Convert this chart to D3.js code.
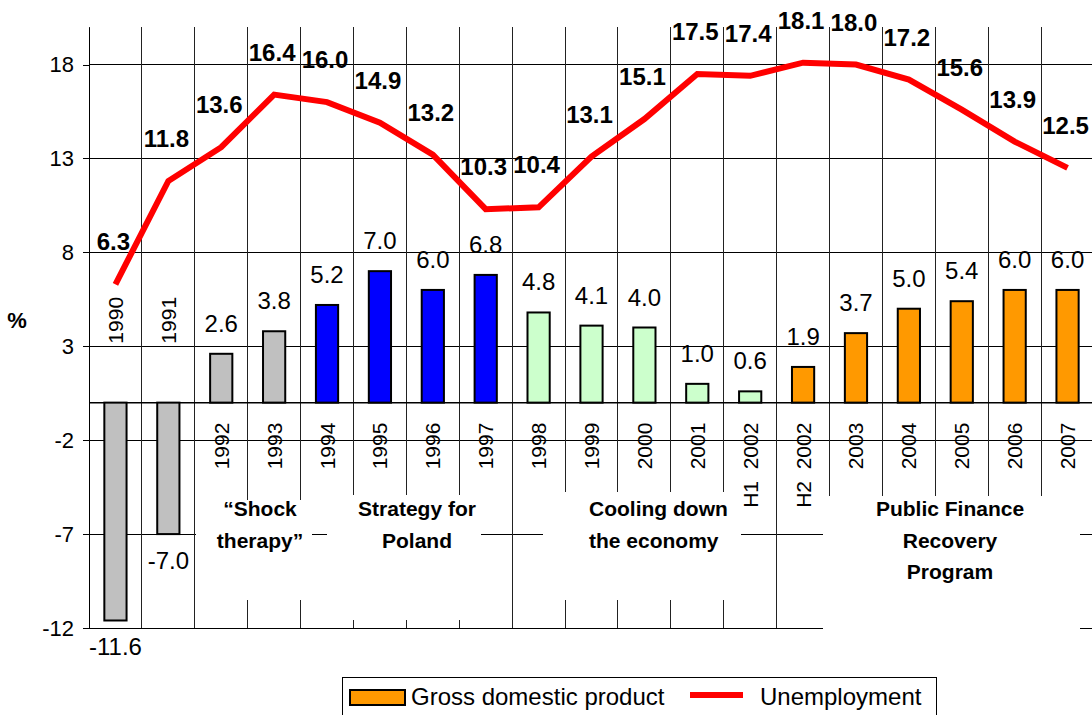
<!DOCTYPE html>
<html>
<head>
<meta charset="utf-8">
<script src="https://cdn.jsdelivr.net/npm/d3@7"></script>
<style>
  html, body { margin: 0; padding: 0; background: #fff; }
  svg { display: block; font-family: "Liberation Sans", Arial, sans-serif; }
</style>
</head>
<body>
<div id="chart"></div>
<script>
// --- Data ---
const categories = ["1990", "1991", "1992", "1993", "1994", "1995", "1996", "1997", "1998", "1999",
                    "2000", "2001", "H1  2002", "H2  2002", "2003", "2004", "2005", "2006", "2007"];
const gdp = [-11.6, -7.0, 2.6, 3.8, 5.2, 7.0, 6.0, 6.8, 4.8, 4.1, 4.0, 1.0, 0.6, 1.9, 3.7, 5.0, 5.4, 6.0, 6.0];
const unemployment = [6.3, 11.8, 13.6, 16.4, 16.0, 14.9, 13.2, 10.3, 10.4, 13.1, 15.1, 17.5, 17.4, 18.1, 18.0, 17.2, 15.6, 13.9, 12.5];
const periods = ["shock", "shock", "shock", "shock", "strategy", "strategy", "strategy", "strategy",
                 "cooling", "cooling", "cooling", "cooling", "cooling",
                 "recovery", "recovery", "recovery", "recovery", "recovery", "recovery"];
const yTicks = [-12, -7, -2, 3, 8, 13, 18];
const periodNames = {
    shock: ["\u201CShock", "therapy\u201D"],
    strategy: ["Strategy for", "Poland"],
    cooling: ["Cooling down", "the economy"],
    recovery: ["Public Finance", "Recovery", "Program"]
};
const legendItems = ["Gross domestic product", "Unemployment"];

// --- Layout ---
const W = 1092, H = 715;
const colors = { shock: "#c0c0c0", strategy: "#0000ff", cooling: "#ccffcc", recovery: "#ff9900" };

const svg = d3.select("#chart").append("svg").attr("width", W).attr("height", H);

const x = d3.scaleBand().domain(categories).range([89, 1094]).padding(0);
const y = d3.scaleLinear().domain([-12, 20]).range([628, 27]);
const cx = c => x(c) + x.bandwidth() / 2;
const barW = x.bandwidth() * 0.42;

// gridlines
const grid = svg.append("g").attr("shape-rendering", "crispEdges");
grid.selectAll(".hgrid").data(yTicks).enter().append("line")
    .attr("x1", 89).attr("x2", W).attr("y1", d => y(d)).attr("y2", d => y(d))
    .attr("stroke", "#000").attr("stroke-width", 1);
const bounds = d3.range(categories.length + 1).map(i => x.range()[0] + i * x.step());
grid.selectAll(".vgrid").data(bounds).enter().append("line")
    .attr("x1", d => d).attr("x2", d => d).attr("y1", y(20)).attr("y2", y(-12))
    .attr("stroke", "#222").attr("stroke-width", 1);

// white text boxes that sit over the grid
const boxes = [
    { key: "shock", x0: 196, x1: 312, y0: 500, y1: 600, cx: 260, anchor: "middle" },
    { key: "strategy", x0: 327, x1: 481, y0: 495, y1: 620, cx: 417, anchor: "middle" },
    { key: "cooling", x0: 543, x1: 741, y0: 492, y1: 600, cx: 589, anchor: "start" },
    { key: "recovery", x0: 823, x1: 1080, y0: 496, y1: 645, cx: 950, anchor: "middle" }
];
svg.selectAll(".tbox").data(boxes).enter().append("rect")
    .attr("x", d => d.x0).attr("y", d => d.y0)
    .attr("width", d => d.x1 - d.x0).attr("height", d => d.y1 - d.y0)
    .attr("fill", "#fff");

boxes.forEach(b => {
    const t = svg.append("text").attr("text-anchor", b.anchor)
        .style("font-size", "21px").style("font-weight", "bold").attr("fill", "#000");
    periodNames[b.key].forEach((line, i) => {
        t.append("tspan").attr("x", b.cx).attr("y", 516 + i * 31.5).text(line);
    });
});

// zero line
svg.append("line").attr("x1", 89).attr("x2", 1094).attr("y1", y(0)).attr("y2", y(0))
    .attr("stroke", "#000").attr("stroke-width", 1.5);

// y axis (plain hyphen minus, as in the source)
const yAxis = d3.axisLeft(y).tickValues(yTicks).tickSize(6).tickSizeOuter(0).tickPadding(9)
    .tickFormat(d => String(d));
const ga = svg.append("g").attr("transform", "translate(89,0)").call(yAxis);
ga.select(".domain").attr("stroke", "#000").attr("shape-rendering", "crispEdges");
ga.selectAll(".tick line").attr("stroke", "#000").attr("shape-rendering", "crispEdges");
ga.selectAll(".tick text").style("font-size", "22px").attr("fill", "#000")
    .style("font-family", "'Liberation Sans', Arial, sans-serif");

svg.append("text").attr("x", 17).attr("y", 328).attr("text-anchor", "middle")
    .style("font-size", "22px").style("font-weight", "bold").text("%");

// GDP bars
const rows = categories.map((c, i) => ({ c, g: gdp[i], u: unemployment[i], p: periods[i] }));
svg.selectAll(".bar").data(rows).enter().append("rect")
    .attr("x", d => cx(d.c) - barW / 2)
    .attr("y", d => y(Math.max(0, d.g)))
    .attr("width", barW)
    .attr("height", d => Math.abs(y(d.g) - y(0)))
    .attr("fill", d => colors[d.p])
    .attr("stroke", "#000").attr("stroke-width", 2);

// GDP value labels
svg.selectAll(".glabel").data(rows).enter().append("text")
    .attr("x", d => cx(d.c))
    .attr("y", d => d.g >= 0 ? y(d.g) - 22 : y(d.g) + 35)
    .attr("text-anchor", "middle")
    .style("font-size", "24px").attr("fill", "#000")
    .text(d => d.g.toFixed(1));

// category labels, rotated
svg.selectAll(".clabel").data(rows).enter().append("text")
    .attr("transform", d => {
        const ty = d.g < 0 ? y(0) - 59 : y(0) + 20;
        return `translate(${cx(d.c) + 7.5},${ty}) rotate(-90)`;
    })
    .attr("text-anchor", d => d.g < 0 ? "start" : "end")
    .style("font-size", "21px").style("white-space", "pre").attr("fill", "#000")
    .text(d => d.c);

// unemployment line
const line = d3.line().x(d => cx(d.c)).y(d => y(d.u));
svg.append("path").datum(rows).attr("d", line)
    .attr("fill", "none").attr("stroke", "#ff0000").attr("stroke-width", 6)
    .attr("stroke-linejoin", "miter").attr("stroke-linecap", "butt");

svg.selectAll(".ulabel").data(rows).enter().append("text")
    .attr("x", d => cx(d.c) - 2)
    .attr("y", d => y(d.u) - 34)
    .attr("text-anchor", "middle")
    .style("font-size", "24px").style("font-weight", "bold").attr("fill", "#000")
    .text(d => d.u.toFixed(1));

// legend
const lg = svg.append("g");
lg.append("rect").attr("x", 342.5).attr("y", 677.5).attr("width", 594).attr("height", 45)
    .attr("fill", "#fff").attr("stroke", "#000").attr("stroke-width", 1);
lg.append("rect").attr("x", 350).attr("y", 690).attr("width", 55).attr("height", 15)
    .attr("fill", colors.recovery).attr("stroke", "#000").attr("stroke-width", 2);
lg.append("text").attr("x", 411).attr("y", 705).style("font-size", "24px").text(legendItems[0]);
lg.append("line").attr("x1", 690).attr("x2", 743).attr("y1", 695).attr("y2", 695)
    .attr("stroke", "#ff0000").attr("stroke-width", 6);
lg.append("text").attr("x", 760).attr("y", 705).style("font-size", "24px").text(legendItems[1]);
</script>
</body>
</html>
